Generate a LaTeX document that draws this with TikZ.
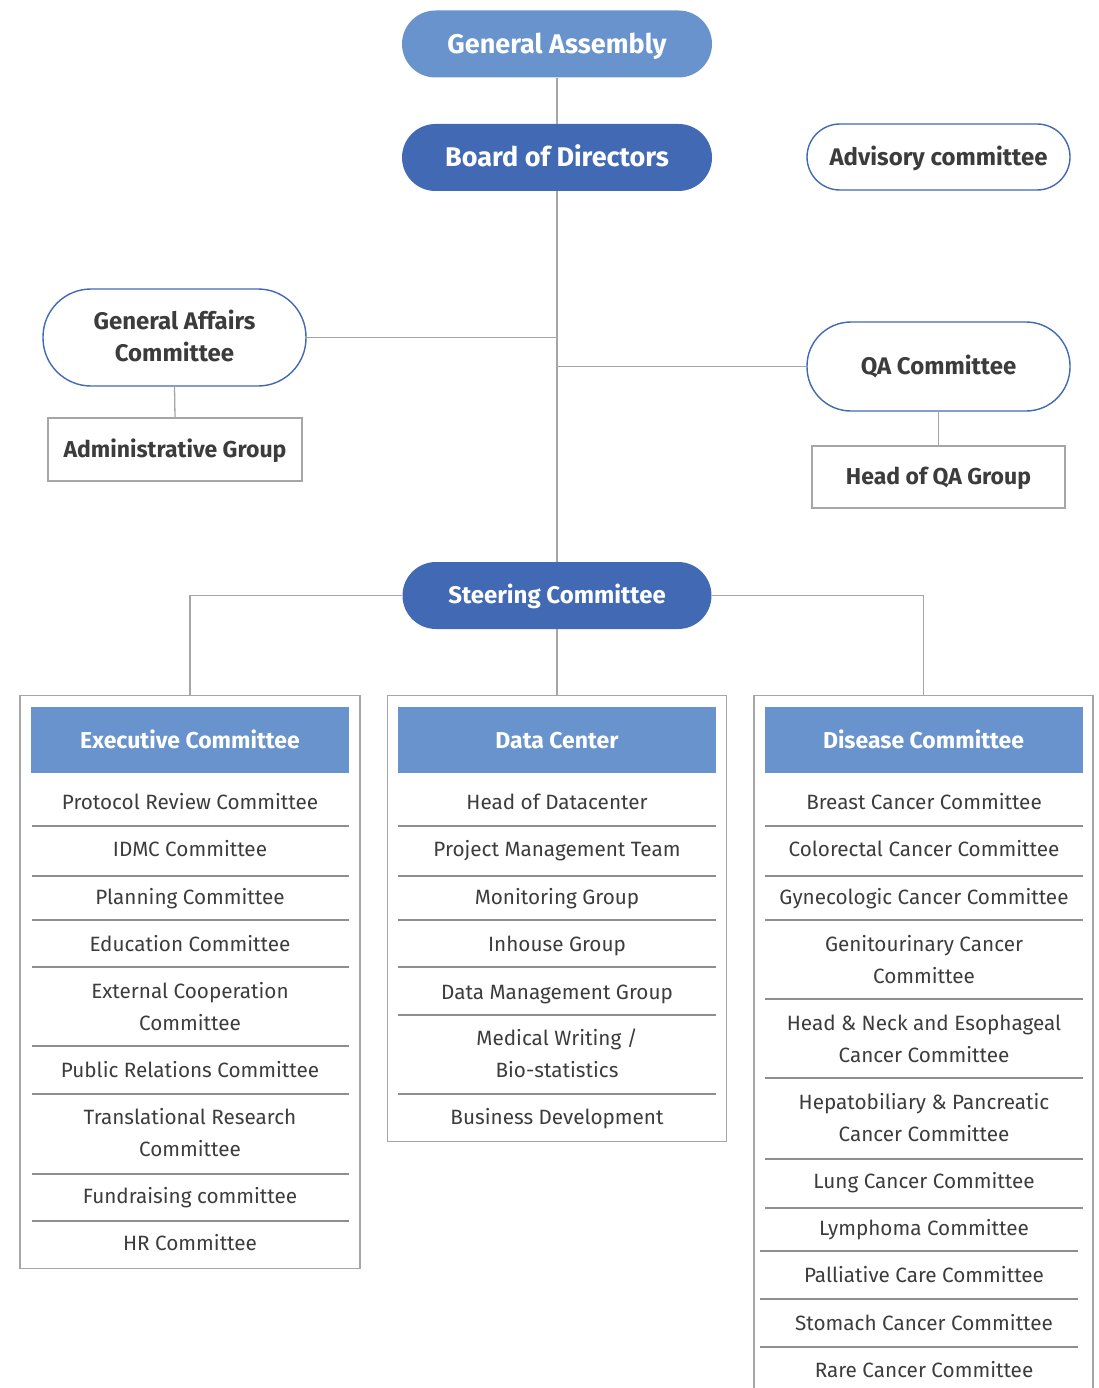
\documentclass[tikz,border=0pt]{standalone}
\usepackage{fontspec}
\setmainfont{Fira Sans}
\usepackage{xcolor}
\usepackage{tikz}
\usetikzlibrary{positioning, calc}
\definecolor{OrgLight}{HTML}{6893CC}
\definecolor{OrgDark}{HTML}{4169B4}
\definecolor{OrgText}{HTML}{3C3C3C}
\definecolor{OrgLine}{HTML}{A6A6A6}
\definecolor{OrgSep}{HTML}{8E8E8E}
\tikzset{
    link/.style={
        draw=OrgLine, line width=1.3pt
    },
    sepline/.style={
        draw=OrgSep, line width=1.1pt
    },
    rowtext/.style={
        font=\fontsize{20.7}{32}\selectfont, text=OrgText, align=center,
        inner sep=0pt, text height=14.3pt, text depth=0pt
    },
    tworow/.style={
        rowtext, text height=46.3pt
    }
}

\begin{document}
\begin{tikzpicture}[x=1pt, y=-1pt,
            % filled ovals at the top of the chart
            pillblue/.style={
                rectangle, rounded corners=33.5pt,
                minimum width=310pt, minimum height=67pt,
                inner sep=0pt, text=white, text height=18.6pt, text depth=0pt,
                font=\bfseries\fontsize{27}{30}\selectfont
            },
            % outlined ovals on the sides
            pillline/.style={
                rectangle, draw=OrgDark, line width=1.4pt, fill=white,
                rounded corners=#1, minimum width=263pt,
                inner sep=0pt, text=OrgText, align=center,
                text height=16.6pt, text depth=0pt,
                font=\bfseries\fontsize{24}{32}\selectfont
            },
            plainbox/.style={
                rectangle, draw=OrgLine, line width=1.3pt, fill=white,
                minimum height=63pt, inner sep=0pt, text=OrgText,
                text height=15.9pt, text depth=0pt,
                font=\bfseries\fontsize{23}{26}\selectfont
            },
            groupbox/.style={
                rectangle, draw=OrgLine, line width=1.3pt,
                minimum width=339pt, anchor=north
            },
            headbox/.style={
                rectangle, fill=OrgLight, minimum width=318pt, minimum height=66pt,
                inner sep=0pt, text=white, text height=15.9pt, text depth=0pt,
                font=\bfseries\fontsize{23}{26}\selectfont
            }
        ]

            \clip (0,0) rectangle (1099,1388);

            % --- TOP OF THE CHART ---
            \node[pillblue, fill=OrgLight] (GA) at (557,44) {General Assembly};
            \node[pillblue, fill=OrgDark] (BD) at (557,157.5) {Board of Directors};
            \node[pillline=33pt, minimum height=66pt] (ADV) at (938.5,157) {Advisory committee};

            \node[pillline=48pt, minimum height=97pt, text height=48.6pt] (GAC) at (174.5,337.5) {General Affairs\\Committee};
            \node[plainbox, minimum width=254pt] (ADM) at (175,449.5) {Administrative Group};

            \node[pillline=44pt, minimum height=89pt] (QA) at (938.5,366.5) {QA Committee};
            \node[plainbox, minimum width=253pt, minimum height=62pt] (HQA) at (938.5,477) {Head of QA Group};

            \node[pillblue, fill=OrgDark, minimum width=309pt, text height=16.6pt,
                  font=\bfseries\fontsize{24}{30}\selectfont] (SC) at (557,595.5) {Steering Committee};

            % --- CONNECTORS ---
            \draw[link] (GA.south) -- (BD.north);
            \draw[link] (BD.south) -- (SC.north);
            \draw[link] (GAC.east) -- (GAC.east -| BD.south);
            \draw[link] (QA.west) -- (QA.west -| BD.south);
            \draw[link] (GAC.south) -- (ADM.north);
            \draw[link] (QA.south) -- (HQA.north);

            % --- THE THREE GROUPS ---
            \node[groupbox, minimum width=340pt, minimum height=573pt] (EXbox) at (190,695) {};
            \node[groupbox, minimum height=446pt] (DCbox) at (557,695) {};
            \node[groupbox, minimum height=740pt] (DSbox) at (923.5,695) {};

            \draw[link] (SC.west) -| (EXbox.north);
            \draw[link] (SC.south) -- (DCbox.north);
            \draw[link] (SC.east) -| (DSbox.north);

            \node[headbox, below=12pt of EXbox.north] (EXhead) {Executive Committee};
            \node[headbox, below=12pt of DCbox.north] (DChead) {Data Center};
            \node[headbox, below=12pt of DSbox.north] (DShead) {Disease Committee};

            % Executive Committee
            \foreach \y/\s/\t [count=\i] in {
                802/rowtext/Protocol Review Committee,
                849/rowtext/IDMC Committee,
                897/rowtext/Planning Committee,
                944/rowtext/Education Committee,
                1007.5/tworow/{External Cooperation\\Committee},
                1070/rowtext/Public Relations Committee,
                1133/tworow/{Translational Research\\Committee},
                1196/rowtext/Fundraising committee,
                1243/rowtext/HR Committee}
                \node[\s] (EX\i) at (190,\y) {\t};
            \foreach \y in {826,876,920,967,1046,1094,1174,1221}
                \draw[sepline] (32,\y) -- (349,\y);

            % Data Center
            \foreach \y/\s/\t [count=\i] in {
                802/rowtext/Head of Datacenter,
                849/rowtext/Project Management Team,
                897/rowtext/Monitoring Group,
                944/rowtext/Inhouse Group,
                992/rowtext/Data Management Group,
                1054.5/tworow/{Medical Writing /\\Bio-statistics},
                1117/rowtext/Business Development}
                \node[\s] (DC\i) at (557,\y) {\t};
            \foreach \y in {826,876,920,967,1015,1094}
                \draw[sepline] (398,\y) -- (716,\y);

            % Disease Committee
            \foreach \y/\s/\t [count=\i] in {
                802/rowtext/Breast Cancer Committee,
                849/rowtext/Colorectal Cancer Committee,
                897/rowtext/Gynecologic Cancer Committee,
                960/tworow/{Genitourinary Cancer\\Committee},
                1039/tworow/{Head \& Neck and Esophageal\\Cancer Committee},
                1118/tworow/{Hepatobiliary \& Pancreatic\\Cancer Committee},
                1181/rowtext/Lung Cancer Committee,
                1228/rowtext/Lymphoma Committee,
                1275/rowtext/Palliative Care Committee,
                1323/rowtext/Stomach Cancer Committee,
                1370/rowtext/Rare Cancer Committee}
                \node[\s] (DS\i) at (924,\y) {\t};
            \foreach \y in {826,876,920,999,1078,1159,1208}
                \draw[sepline] (765,\y) -- (1083,\y);
            \foreach \y in {1251,1299,1347}
                \draw[sepline] (760,\y) -- (1078,\y);

        \end{tikzpicture}
\end{document}
